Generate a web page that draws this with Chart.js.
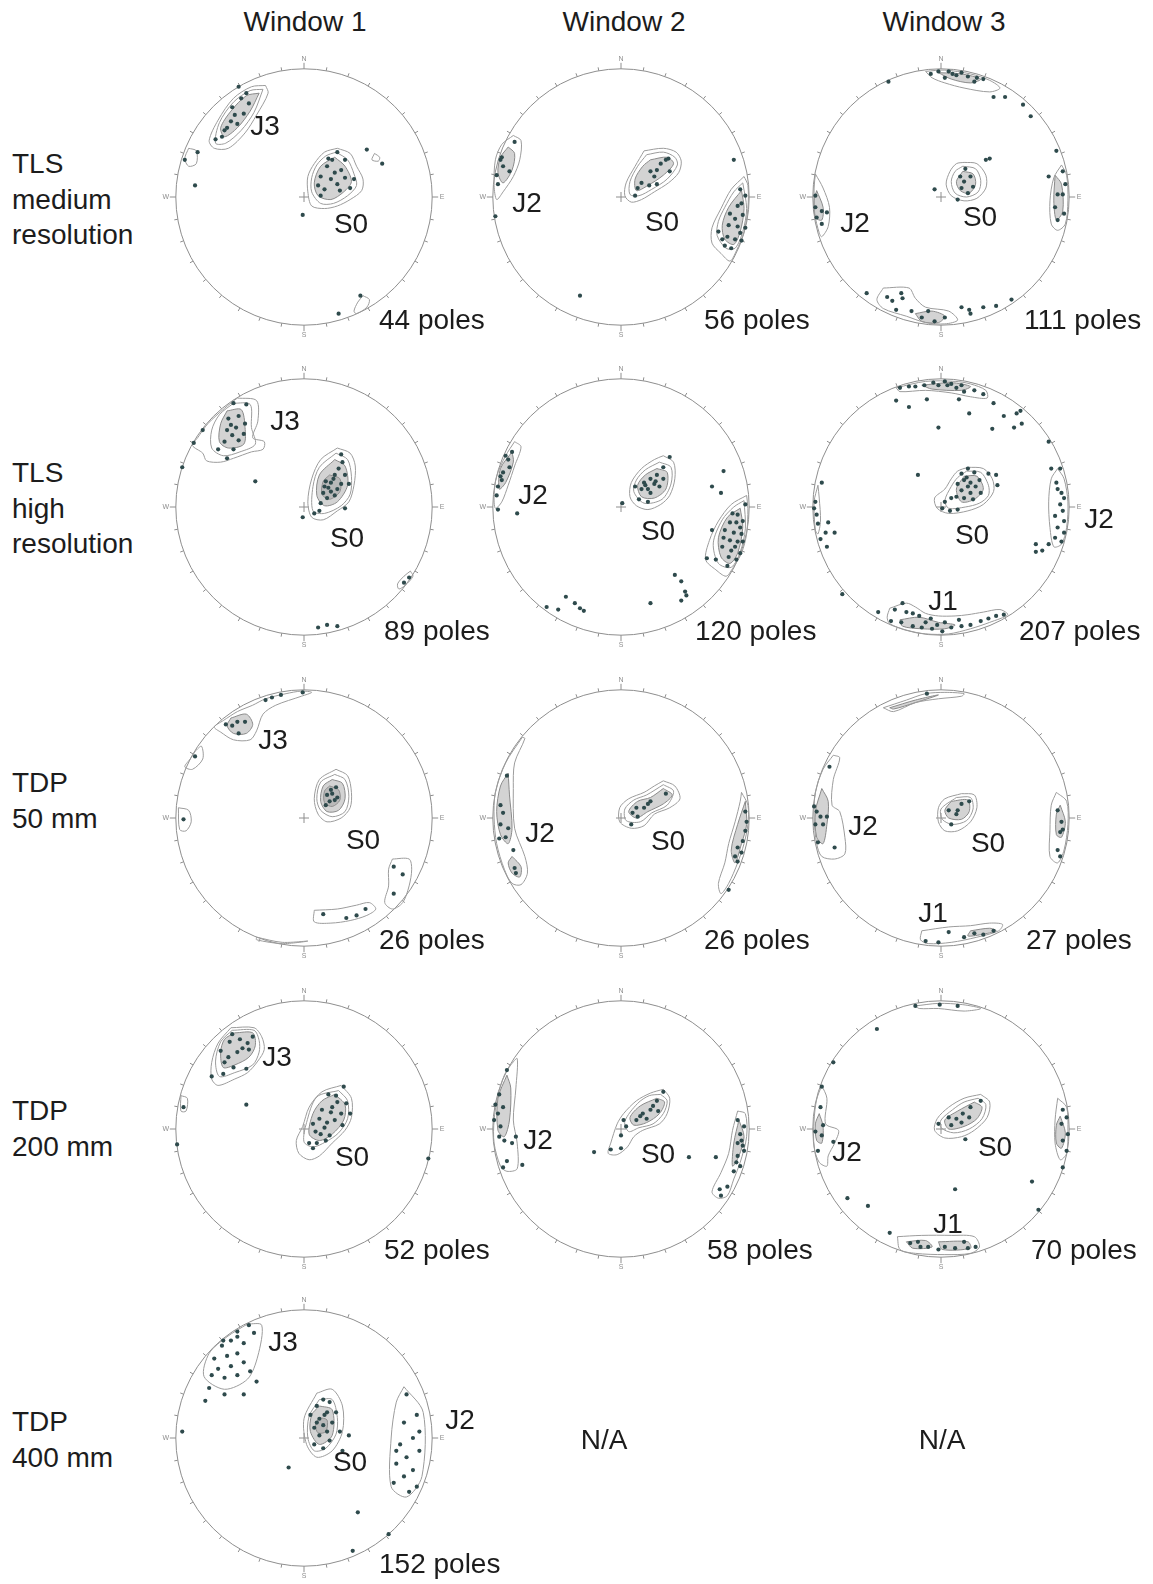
<!DOCTYPE html>
<html>
<head>
<meta charset="utf-8">
<script src="https://cdn.jsdelivr.net/npm/chart.js@4.4.1/dist/chart.umd.min.js"></script>
<style>
  body { margin: 0; background: #fff; }
  #page { position: relative; width: 1153px; height: 1584px; overflow: hidden; background: #fff;
          font-family: "Liberation Sans", Arial, sans-serif; color: #1c1c1c; }
  canvas { position: absolute; }
  .t { position: absolute; font-size: 28px; line-height: 1; white-space: nowrap; z-index: 2; }
  .c { transform: translate(-50%, -50%); }
  .l { transform: translateY(-50%); }
  .rl { left: 12px; line-height: 35.5px; }
</style>
</head>
<body>
<div id="page">
  <div class="t c" style="left:305px;top:22px">Window 1</div>
  <div class="t c" style="left:624px;top:22px">Window 2</div>
  <div class="t c" style="left:944px;top:22px">Window 3</div>

  <div class="t rl" style="top:146px">TLS<br>medium<br>resolution</div>
  <div class="t rl" style="top:455px">TLS<br>high<br>resolution</div>
  <div class="t rl" style="top:765px">TDP<br>50 mm</div>
  <div class="t rl" style="top:1093px">TDP<br>200 mm</div>
  <div class="t rl" style="top:1404px">TDP<br>400 mm</div>

  <canvas id="n11" width="290" height="290" style="left:159px;top:52px"></canvas>
  <canvas id="n12" width="290" height="290" style="left:476px;top:52px"></canvas>
  <canvas id="n13" width="290" height="290" style="left:796px;top:52px"></canvas>
  <canvas id="n21" width="290" height="290" style="left:159px;top:362px"></canvas>
  <canvas id="n22" width="290" height="290" style="left:476px;top:362px"></canvas>
  <canvas id="n23" width="290" height="290" style="left:796px;top:362px"></canvas>
  <canvas id="n31" width="290" height="290" style="left:159px;top:673px"></canvas>
  <canvas id="n32" width="290" height="290" style="left:476px;top:673px"></canvas>
  <canvas id="n33" width="290" height="290" style="left:796px;top:673px"></canvas>
  <canvas id="n41" width="290" height="290" style="left:159px;top:984px"></canvas>
  <canvas id="n42" width="290" height="290" style="left:476px;top:984px"></canvas>
  <canvas id="n43" width="290" height="290" style="left:796px;top:984px"></canvas>
  <canvas id="n51" width="290" height="290" style="left:159px;top:1293px"></canvas>

  <!-- set labels -->
  <div class="t c" style="left:265px;top:126px">J3</div>
  <div class="t c" style="left:351px;top:224px">S0</div>
  <div class="t c" style="left:527px;top:203px">J2</div>
  <div class="t c" style="left:662px;top:222px">S0</div>
  <div class="t c" style="left:855px;top:223px">J2</div>
  <div class="t c" style="left:980px;top:217px">S0</div>

  <div class="t c" style="left:285px;top:421px">J3</div>
  <div class="t c" style="left:347px;top:538px">S0</div>
  <div class="t c" style="left:533px;top:495px">J2</div>
  <div class="t c" style="left:658px;top:531px">S0</div>
  <div class="t c" style="left:972px;top:535px">S0</div>
  <div class="t c" style="left:943px;top:601px">J1</div>
  <div class="t c" style="left:1099px;top:519px">J2</div>

  <div class="t c" style="left:273px;top:740px">J3</div>
  <div class="t c" style="left:363px;top:840px">S0</div>
  <div class="t c" style="left:540px;top:833px">J2</div>
  <div class="t c" style="left:668px;top:841px">S0</div>
  <div class="t c" style="left:863px;top:826px">J2</div>
  <div class="t c" style="left:988px;top:843px">S0</div>
  <div class="t c" style="left:933px;top:913px">J1</div>

  <div class="t c" style="left:277px;top:1057px">J3</div>
  <div class="t c" style="left:352px;top:1157px">S0</div>
  <div class="t c" style="left:538px;top:1140px">J2</div>
  <div class="t c" style="left:658px;top:1154px">S0</div>
  <div class="t c" style="left:847px;top:1152px">J2</div>
  <div class="t c" style="left:995px;top:1147px">S0</div>
  <div class="t c" style="left:948px;top:1224px">J1</div>

  <div class="t c" style="left:283px;top:1342px">J3</div>
  <div class="t c" style="left:350px;top:1462px">S0</div>
  <div class="t c" style="left:460px;top:1420px">J2</div>

  <!-- pole counts -->
  <div class="t l" style="left:379px;top:320px">44 poles</div>
  <div class="t l" style="left:704px;top:320px">56 poles</div>
  <div class="t l" style="left:1024px;top:320px">111 poles</div>
  <div class="t l" style="left:384px;top:631px">89 poles</div>
  <div class="t l" style="left:695px;top:631px">120 poles</div>
  <div class="t l" style="left:1019px;top:631px">207 poles</div>
  <div class="t l" style="left:379px;top:940px">26 poles</div>
  <div class="t l" style="left:704px;top:940px">26 poles</div>
  <div class="t l" style="left:1026px;top:940px">27 poles</div>
  <div class="t l" style="left:384px;top:1250px">52 poles</div>
  <div class="t l" style="left:707px;top:1250px">58 poles</div>
  <div class="t l" style="left:1031px;top:1250px">70 poles</div>
  <div class="t l" style="left:379px;top:1564px">152 poles</div>

  <div class="t c" style="left:604px;top:1440px">N/A</div>
  <div class="t c" style="left:942px;top:1440px">N/A</div>
</div>

<script>
// poles are [x, y] pairs on the unit stereonet (x east, y north)
// rings = plain contour lines, fills = dense (shaded) contour cores

// ---- TLS medium resolution ----
const tlsMedW1Poles = [-0.51,0.86, -0.45,0.81, -0.49,0.77, -0.43,0.73, -0.54,0.64, -0.57,0.59, -0.52,0.57, -0.60,0.54, -0.64,0.47, -0.69,0.45, -0.47,0.65, -0.56,0.70, -0.62,0.52,
  0.26,0.35, 0.32,0.29, 0.22,0.29, 0.18,0.24, 0.29,0.21, 0.24,0.19, 0.13,0.16, 0.21,0.14, 0.32,0.15, 0.39,0.14, 0.11,0.09, 0.16,0.06, 0.36,0.07, 0.13,0.01, 0.26,0.10, 0.19,0.30, 0.28,0.05,
  -0.93,0.29, -0.83,0.35, -0.85,0.09, 0.49,0.37, 0.61,0.26, -0.01,-0.14, 0.44,-0.77, 0.27,-0.91];
const tlsMedW1Rings = [
  [-0.30,0.87, -0.28,0.81, -0.37,0.64, -0.46,0.50, -0.59,0.38, -0.70,0.38, -0.74,0.44, -0.67,0.60, -0.55,0.77, -0.41,0.86],
  [-0.32,0.84, -0.39,0.66, -0.49,0.52, -0.61,0.42, -0.69,0.42, -0.66,0.58, -0.55,0.74, -0.42,0.83],
  [0.26,0.38, 0.36,0.34, 0.41,0.24, 0.46,0.14, 0.45,0.05, 0.36,-0.02, 0.26,-0.07, 0.16,-0.09, 0.06,-0.07, 0.03,0.04, 0.03,0.16, 0.08,0.26, 0.16,0.35],
  [0.25,0.35, 0.34,0.29, 0.39,0.18, 0.41,0.09, 0.34,0.01, 0.23,-0.05, 0.13,-0.05, 0.06,0.04, 0.06,0.15, 0.10,0.25, 0.17,0.32],
  [-0.90,0.38, -0.84,0.36, -0.84,0.26, -0.90,0.24, -0.93,0.30],
  [0.55,0.34, 0.59,0.31, 0.58,0.28, 0.53,0.29],
  [0.46,-0.77, 0.51,-0.80, 0.49,-0.86, 0.41,-0.91, 0.39,-0.89, 0.42,-0.82]
];
const tlsMedW1Fills = [
  [-0.35,0.81, -0.42,0.67, -0.52,0.54, -0.62,0.47, -0.65,0.54, -0.57,0.67, -0.45,0.79],
  [0.24,0.31, 0.32,0.24, 0.37,0.12, 0.31,0.04, 0.21,-0.02, 0.11,0.01, 0.08,0.11, 0.13,0.24]
];

const tlsMedW2Poles = [-0.83,0.43, -0.93,0.31, -0.94,0.29, -0.87,0.20, -0.92,0.24, -0.97,0.17, -0.98,-0.15, -0.96,0.10,
  0.35,0.29, 0.31,0.26, 0.37,0.30, 0.28,0.21, 0.23,0.20, 0.38,0.20, 0.26,0.16, 0.16,0.11, 0.22,0.09, 0.13,0.07, 0.28,0.10, 0.11,0.01,
  0.93,0.06, 0.97,0.01, 0.91,-0.07, 0.85,-0.13, 0.89,-0.17, 0.95,-0.14, 0.84,-0.22, 0.91,-0.23, 0.97,-0.24, 0.76,-0.27, 0.83,-0.31, 0.89,-0.33, 0.94,-0.34, 0.79,-0.33,
  0.93,-0.28, 0.86,-0.40, 0.81,-0.38, 0.94,-0.05, 0.88,0.29, -0.32,-0.77];
const tlsMedW2Rings = [
  [-0.84,0.48, -0.78,0.44, -0.79,0.29, -0.84,0.16, -0.92,0.04, -0.97,-0.02, -0.99,0.09, -0.98,0.29, -0.93,0.41],
  [0.18,0.36, 0.33,0.38, 0.43,0.35, 0.47,0.28, 0.45,0.19, 0.37,0.11, 0.26,0.04, 0.16,-0.02, 0.08,-0.04, 0.03,0.01, 0.04,0.11, 0.11,0.24],
  [0.20,0.33, 0.33,0.35, 0.42,0.31, 0.44,0.25, 0.36,0.14, 0.24,0.06, 0.14,0.01, 0.07,0.02, 0.07,0.12, 0.13,0.24],
  [0.96,0.16, 0.99,0.09, 0.99,-0.09, 0.96,-0.27, 0.90,-0.42, 0.85,-0.50, 0.78,-0.44, 0.71,-0.36, 0.71,-0.24, 0.78,-0.09, 0.86,0.06],
  [0.95,0.11, 0.98,-0.09, 0.95,-0.27, 0.89,-0.40, 0.82,-0.40, 0.75,-0.30, 0.76,-0.19, 0.81,-0.08, 0.88,0.04]
];
const tlsMedW2Fills = [
  [-0.88,0.39, -0.83,0.34, -0.85,0.21, -0.92,0.11, -0.96,0.19, -0.94,0.31],
  [0.23,0.29, 0.36,0.31, 0.41,0.26, 0.33,0.17, 0.21,0.09, 0.12,0.05, 0.11,0.14, 0.17,0.24],
  [0.94,0.05, 0.96,-0.09, 0.93,-0.27, 0.88,-0.37, 0.81,-0.33, 0.79,-0.22, 0.84,-0.08]
];

const tlsMedW3Poles = [-0.02,0.98, 0.06,0.98, 0.09,0.96, 0.16,0.97, 0.21,0.94, 0.33,0.92, 0.03,0.93, 0.26,0.90, 0.12,0.95, -0.08,0.96, 0.28,0.93,
  0.41,0.78, 0.50,0.78, 0.64,0.72, 0.70,0.63, -0.41,0.90, 0.90,0.36,
  0.19,0.22, 0.15,0.16, 0.23,0.16, 0.18,0.12, 0.25,0.08, 0.16,0.07, 0.21,0.03, 0.35,0.29, 0.38,0.30, -0.05,0.06, 0.13,-0.02,
  -0.98,0.01, -0.93,-0.11, -0.89,-0.12, -0.97,-0.16, -0.93,-0.21, -0.98,-0.08,
  0.95,0.20, 0.97,0.10, 0.91,0.02, 0.95,0.02, 0.89,-0.08, 0.91,-0.18, 0.96,-0.13, 0.84,0.16,
  -0.42,-0.78, -0.38,-0.81, -0.31,-0.75, -0.30,-0.79, -0.35,-0.88, -0.23,-0.89, -0.15,-0.94, -0.10,-0.89, -0.05,-0.97, 0.03,-0.94, -0.58,-0.75,
  0.16,-0.86, 0.23,-0.91, 0.33,-0.86, 0.43,-0.85, 0.55,-0.80, 0.22,-0.88];
const tlsMedW3Rings = [
  [-0.12,0.98, 0.03,0.99, 0.23,0.96, 0.38,0.91, 0.46,0.85, 0.38,0.82, 0.18,0.85, 0.03,0.89, -0.07,0.93],
  [0.18,0.27, 0.28,0.26, 0.35,0.17, 0.35,0.07, 0.28,-0.01, 0.18,-0.03, 0.08,0.01, 0.04,0.10, 0.07,0.20, 0.12,0.26],
  [0.17,0.24, 0.27,0.22, 0.31,0.13, 0.29,0.04, 0.20,0.00, 0.11,0.03, 0.08,0.12, 0.11,0.20],
  [-0.98,0.18, -0.92,0.07, -0.87,-0.08, -0.88,-0.23, -0.93,-0.31, -0.95,-0.28, -0.985,-0.13, -0.99,0.07],
  [0.94,0.25, 0.98,0.17, 0.99,-0.03, 0.97,-0.21, 0.91,-0.26, 0.86,-0.21, 0.85,-0.03, 0.88,0.15],
  [-0.45,-0.71, -0.25,-0.71, -0.20,-0.79, -0.12,-0.86, 0.06,-0.89, 0.13,-0.96, 0.03,-0.99, -0.12,-0.98, -0.27,-0.93, -0.45,-0.87, -0.50,-0.80]
];
const tlsMedW3Fills = [
  [-0.02,0.97, 0.16,0.96, 0.31,0.92, 0.23,0.89, 0.08,0.92],
  [0.17,0.20, 0.25,0.18, 0.27,0.10, 0.22,0.03, 0.15,0.05, 0.12,0.12],
  [-0.97,0.05, -0.92,-0.08, -0.93,-0.18, -0.98,-0.16, -0.99,-0.03],
  [0.89,0.17, 0.94,0.10, 0.95,-0.11, 0.90,-0.18, 0.88,-0.03],
  [-0.20,-0.91, -0.07,-0.89, 0.03,-0.93, -0.02,-0.98, -0.15,-0.97]
];

// ---- TLS high resolution ----
const tlsHighW1Poles = [-0.55,0.81, -0.45,0.80, -0.59,0.69, -0.51,0.71, -0.46,0.65, -0.60,0.60, -0.56,0.56, -0.51,0.52, -0.47,0.57, -0.62,0.51, -0.67,0.45, -0.60,0.38, -0.55,0.45,
  -0.79,0.60, -0.86,0.50, -0.95,0.31, -0.38,0.20, -0.57,0.64, -0.53,0.62,
  0.29,0.41, 0.30,0.35, 0.27,0.30, 0.32,0.25, 0.24,0.25, 0.21,0.19, 0.29,0.18, 0.16,0.16, 0.21,0.12, 0.15,0.11, 0.18,0.07, 0.13,0.03, 0.26,0.14, 0.32,-0.01,
  0.08,-0.05, 0.12,-0.03, -0.01,-0.08, 0.35,0.18, 0.19,0.15, 0.24,0.09, 0.17,0.20, 0.23,0.22,
  0.82,-0.55, 0.78,-0.59, 0.11,-0.94, 0.18,-0.92, 0.26,-0.93];
const tlsHighW1Rings = [
  [-0.52,0.85, -0.37,0.83, -0.36,0.67, -0.40,0.54, -0.31,0.51, -0.32,0.45, -0.41,0.43, -0.55,0.38, -0.65,0.35, -0.76,0.36, -0.79,0.42, -0.87,0.48, -0.83,0.54, -0.75,0.65, -0.62,0.77],
  [-0.55,0.81, -0.42,0.80, -0.41,0.62, -0.38,0.49, -0.50,0.43, -0.63,0.40, -0.72,0.46, -0.72,0.60, -0.66,0.72],
  [0.26,0.46, 0.36,0.42, 0.40,0.32, 0.39,0.17, 0.35,0.04, 0.26,-0.03, 0.15,-0.10, 0.06,-0.08, 0.03,0.04, 0.06,0.22, 0.13,0.37],
  [0.25,0.42, 0.34,0.37, 0.37,0.24, 0.36,0.10, 0.29,0.01, 0.16,-0.05, 0.07,-0.03, 0.07,0.16, 0.12,0.31],
  [0.83,-0.50, 0.85,-0.54, 0.79,-0.61, 0.74,-0.64, 0.73,-0.60, 0.78,-0.54]
];
const tlsHighW1Fills = [
  [-0.60,0.75, -0.49,0.76, -0.46,0.62, -0.47,0.49, -0.59,0.46, -0.66,0.51, -0.65,0.65],
  [0.24,0.37, 0.32,0.32, 0.34,0.17, 0.26,0.04, 0.16,0.01, 0.10,0.09, 0.12,0.25],
  [0.20,0.25, 0.28,0.22, 0.28,0.12, 0.20,0.06, 0.14,0.10, 0.15,0.20]
];

const tlsHighW2Poles = [-0.85,0.43, -0.88,0.37, -0.87,0.31, -0.92,0.27, -0.93,0.21, -0.96,0.16, -0.97,0.09, -0.96,-0.02, -0.81,-0.05, -0.90,0.40, -0.94,0.24,
  0.38,0.39, 0.33,0.31, 0.28,0.25, 0.33,0.22, 0.23,0.22, 0.18,0.19, 0.26,0.18, 0.30,0.16, 0.21,0.14, 0.16,0.14, 0.23,0.11, 0.14,0.06, 0.21,0.04, 0.11,0.16, 0.01,0.03, 0.27,0.20, 0.19,0.17,
  0.97,0.02, 0.91,-0.06, 0.85,-0.12, 0.90,-0.12, 0.95,-0.11, 0.81,-0.18, 0.88,-0.20, 0.94,-0.21, 0.85,-0.26, 0.91,-0.27, 0.95,-0.27, 0.79,-0.31, 0.86,-0.34, 0.93,-0.36,
  0.84,-0.39, 0.90,-0.41, 0.71,-0.18, 0.67,-0.40, 0.74,-0.41, 0.83,-0.46, 0.89,-0.31, 0.87,-0.05, 0.93,-0.16, 0.80,-0.24,
  0.80,0.28, 0.71,0.16, 0.78,0.11, 0.42,-0.53, 0.47,-0.58, 0.50,-0.66, 0.51,-0.69, 0.47,-0.73, 0.23,-0.75,
  -0.43,-0.70, -0.58,-0.78, -0.49,-0.80, -0.36,-0.75, -0.32,-0.79, -0.29,-0.81];
const tlsHighW2Rings = [
  [-0.83,0.51, -0.78,0.47, -0.83,0.32, -0.88,0.17, -0.93,0.04, -0.98,-0.01, -0.99,0.09, -0.97,0.24, -0.90,0.40],
  [0.33,0.40, 0.41,0.35, 0.42,0.22, 0.38,0.09, 0.31,0.02, 0.21,-0.02, 0.12,0.01, 0.07,0.08, 0.08,0.19, 0.16,0.30, 0.26,0.37],
  [0.30,0.35, 0.39,0.31, 0.39,0.18, 0.32,0.06, 0.18,0.03, 0.10,0.12, 0.12,0.21, 0.19,0.29],
  [0.98,0.09, 0.99,-0.01, 0.98,-0.21, 0.94,-0.36, 0.87,-0.48, 0.82,-0.54, 0.74,-0.49, 0.66,-0.41, 0.69,-0.26, 0.76,-0.11, 0.86,0.02],
  [0.96,0.05, 0.97,-0.17, 0.93,-0.35, 0.86,-0.47, 0.76,-0.44, 0.72,-0.28, 0.79,-0.10, 0.88,0.00]
];
const tlsHighW2Fills = [
  [-0.85,0.43, -0.84,0.35, -0.90,0.19, -0.95,0.14, -0.94,0.30],
  [0.28,0.30, 0.36,0.27, 0.35,0.14, 0.26,0.07, 0.16,0.08, 0.13,0.17, 0.19,0.25],
  [0.93,-0.01, 0.95,-0.16, 0.91,-0.36, 0.85,-0.44, 0.78,-0.39, 0.76,-0.24, 0.83,-0.08]
];

const tlsHighW3Poles = [-0.32,0.93, -0.20,0.94, -0.13,0.95, -0.06,0.97, -0.02,0.95, 0.03,0.98, 0.08,0.96, 0.16,0.95, 0.18,0.90, 0.26,0.91, 0.33,0.88, 0.12,0.93, -0.25,0.94, 0.05,0.95,
  -0.35,0.83, -0.25,0.78, -0.11,0.84, 0.14,0.84, 0.22,0.73, 0.41,0.81, 0.49,0.71, 0.59,0.73, 0.62,0.75, 0.57,0.62, 0.63,0.65, 0.40,0.61, -0.02,0.62, 0.84,0.51,
  0.21,0.30, 0.16,0.26, 0.26,0.27, 0.18,0.21, 0.23,0.19, 0.30,0.21, 0.13,0.18, 0.21,0.16, 0.27,0.16, 0.16,0.13, 0.23,0.11, 0.31,0.11, 0.12,0.08, 0.18,0.07, 0.08,0.07,
  0.03,0.04, 0.01,-0.01, 0.07,-0.03, 0.13,-0.02, 0.37,0.26, 0.43,0.25, 0.44,0.17, -0.18,0.25, 0.20,0.23, 0.25,0.06,
  -0.93,0.19, -0.98,0.04, -0.99,-0.01, -0.97,-0.06, -0.96,-0.13, -0.88,-0.12, -0.83,-0.20, -0.90,-0.20, -0.94,-0.25, -0.89,-0.31, -0.77,-0.68,
  0.86,0.30, 0.93,0.30, 0.90,0.19, 0.91,0.14, 0.94,0.11, 0.96,0.07, 0.93,0.02, 0.95,-0.03, 0.89,-0.07, 0.96,-0.11, 0.91,-0.16, 0.96,-0.20, 0.89,-0.24, 0.94,-0.27,
  0.74,-0.29, 0.79,-0.34, 0.84,-0.29, 0.74,-0.35,
  -0.49,-0.82, -0.36,-0.80, -0.30,-0.75, -0.27,-0.82, -0.22,-0.83, -0.17,-0.85, -0.08,-0.87, -0.39,-0.89, -0.31,-0.90, -0.22,-0.93, -0.15,-0.94, -0.07,-0.95, 0.01,-0.97,
  0.08,-0.94, 0.16,-0.93, 0.23,-0.92, 0.31,-0.89, 0.37,-0.87, 0.43,-0.85, 0.49,-0.84, 0.03,-0.90, -0.03,-0.92, -0.12,-0.90, 0.14,-0.88];
const tlsHighW3Rings = [
  [-0.35,0.93, -0.12,0.98, 0.11,0.98, 0.23,0.96, 0.35,0.91, 0.36,0.85, 0.23,0.86, 0.08,0.89, -0.12,0.91, -0.32,0.90],
  [0.21,0.31, 0.33,0.30, 0.40,0.22, 0.41,0.12, 0.33,0.02, 0.21,-0.03, 0.06,-0.05, -0.03,-0.01, -0.05,0.07, 0.03,0.14, 0.08,0.22, 0.13,0.28],
  [0.20,0.28, 0.31,0.27, 0.37,0.17, 0.37,0.09, 0.30,0.03, 0.19,0.00, 0.06,-0.01, 0.03,0.05, 0.08,0.16, 0.13,0.23],
  [-0.96,0.17, -0.95,0.07, -0.94,-0.11, -0.96,-0.21, -0.98,-0.18, -0.99,0.04],
  [0.91,0.30, 0.96,0.22, 0.99,0.04, 0.98,-0.16, 0.94,-0.29, 0.88,-0.31, 0.85,-0.16, 0.84,0.04, 0.86,0.22],
  [-0.40,-0.79, -0.27,-0.75, -0.20,-0.78, -0.12,-0.83, -0.02,-0.85, 0.11,-0.85, 0.21,-0.84, 0.33,-0.82, 0.46,-0.80, 0.52,-0.84, 0.38,-0.90, 0.23,-0.95, 0.06,-0.99, -0.12,-0.99, -0.27,-0.96, -0.40,-0.91, -0.42,-0.86]
];
const tlsHighW3Fills = [
  [-0.15,0.95, 0.08,0.97, 0.23,0.94, 0.16,0.91, -0.07,0.92],
  [0.18,0.24, 0.28,0.24, 0.33,0.14, 0.26,0.06, 0.16,0.04, 0.12,0.14],
  [-0.32,-0.88, -0.17,-0.86, -0.02,-0.90, 0.11,-0.92, 0.03,-0.95, -0.15,-0.95, -0.30,-0.93]
];

// ---- TDP 50 mm ----
const tdp50W1Poles = [-0.61,0.73, -0.52,0.75, -0.46,0.75, -0.56,0.72, -0.30,0.92, -0.25,0.94, -0.18,0.96, -0.51,0.66, -0.85,0.48, -0.94,-0.01, -0.01,0.98,
  0.25,0.24, 0.22,0.19, 0.26,0.16, 0.18,0.18, 0.17,0.10, 0.24,0.14, 0.21,0.22, 0.20,0.13,
  0.70,-0.38, 0.77,-0.44, 0.70,-0.59, 0.15,-0.75, 0.33,-0.78, 0.48,-0.71, 0.41,-0.76];
const tdp50W1Rings = [
  [-0.63,0.76, -0.52,0.83, -0.40,0.88, -0.30,0.93, -0.14,0.97, -0.02,0.99, 0.06,0.98, -0.02,0.95, -0.22,0.88, -0.32,0.81, -0.37,0.68, -0.42,0.61, -0.55,0.61, -0.65,0.67, -0.70,0.71],
  [-0.85,0.52, -0.80,0.56, -0.79,0.46, -0.87,0.38, -0.93,0.40, -0.88,0.47],
  [-0.98,0.08, -0.90,0.06, -0.88,-0.03, -0.92,-0.10, -0.97,-0.09],
  [0.25,0.38, 0.34,0.33, 0.37,0.20, 0.36,0.08, 0.29,0.00, 0.18,-0.03, 0.11,0.03, 0.08,0.15, 0.12,0.30],
  [0.24,0.34, 0.32,0.30, 0.35,0.17, 0.32,0.05, 0.22,0.01, 0.13,0.06, 0.10,0.15, 0.13,0.28],
  [0.69,-0.32, 0.82,-0.32, 0.84,-0.40, 0.82,-0.53, 0.77,-0.66, 0.69,-0.71, 0.63,-0.66, 0.66,-0.53, 0.66,-0.40],
  [0.08,-0.72, 0.26,-0.71, 0.41,-0.68, 0.51,-0.66, 0.56,-0.71, 0.49,-0.76, 0.36,-0.80, 0.21,-0.82, 0.08,-0.81],
  [-0.37,-0.93, -0.17,-0.97, 0.03,-0.96, -0.17,-0.98, -0.37,-0.95]
];
const tdp50W1Fills = [
  [-0.57,0.78, -0.45,0.81, -0.40,0.73, -0.45,0.66, -0.55,0.66, -0.60,0.72],
  [0.22,0.30, 0.30,0.27, 0.32,0.15, 0.27,0.06, 0.18,0.05, 0.13,0.13, 0.15,0.25],
  [0.20,0.25, 0.27,0.22, 0.28,0.14, 0.22,0.09, 0.16,0.12, 0.16,0.21]
];

const tdp50W2Poles = [-0.89,0.33, -0.94,0.10, -0.92,0.04, -0.94,-0.05, -0.88,-0.08, -0.90,-0.15, -0.95,-0.16, -0.84,-0.25, -0.83,-0.39, -0.82,-0.43,
  0.35,0.19, 0.21,0.11, 0.18,0.08, 0.12,0.08, 0.09,0.04, 0.13,0.01, 0.08,-0.05, 0.23,0.13,
  0.97,0.05, 0.98,-0.03, 0.97,-0.10, 0.95,-0.18, 0.91,-0.23, 0.94,-0.27, 0.89,-0.30, 0.91,-0.34, 0.84,-0.56];
const tdp50W2Rings = [
  [-0.77,0.63, -0.75,0.62, -0.83,0.43, -0.84,0.23, -0.83,-0.08, -0.75,-0.30, -0.73,-0.43, -0.78,-0.52, -0.85,-0.51, -0.91,-0.40, -0.97,-0.20, -0.99,0.00, -0.98,0.20, -0.90,0.43],
  [0.33,0.29, 0.42,0.25, 0.46,0.15, 0.38,0.08, 0.26,0.03, 0.18,-0.06, 0.08,-0.08, -0.01,-0.03, -0.01,0.08, 0.06,0.15, 0.18,0.20, 0.26,0.25],
  [0.33,0.26, 0.41,0.21, 0.36,0.10, 0.24,0.04, 0.15,-0.03, 0.04,-0.02, 0.03,0.07, 0.10,0.14, 0.20,0.18],
  [0.94,0.20, 0.99,0.10, 0.99,-0.05, 0.96,-0.20, 0.91,-0.35, 0.84,-0.51, 0.78,-0.59, 0.76,-0.51, 0.81,-0.35, 0.84,-0.20, 0.89,-0.03, 0.93,0.13]
];
const tdp50W2Fills = [
  [-0.88,0.35, -0.87,0.18, -0.85,-0.08, -0.88,-0.20, -0.94,-0.13, -0.97,0.05, -0.94,0.25],
  [-0.85,-0.30, -0.78,-0.38, -0.79,-0.46, -0.85,-0.43, -0.88,-0.35],
  [0.33,0.23, 0.40,0.18, 0.33,0.11, 0.21,0.05, 0.12,0.00, 0.06,0.05, 0.13,0.13, 0.23,0.16],
  [0.97,0.13, 0.98,-0.05, 0.94,-0.20, 0.89,-0.35, 0.86,-0.25, 0.91,-0.05]
];

const tdp50W3Poles = [-0.11,0.97, -0.87,0.40, -0.99,0.09, -0.97,0.05, -0.94,0.01, -0.89,0.01, -0.98,-0.05, -0.92,-0.05, -0.96,-0.19, -0.83,-0.23,
  0.16,0.11, 0.22,0.13, 0.13,0.06, 0.06,0.06, 0.12,0.03, 0.08,-0.05,
  0.91,0.06, 0.94,-0.03, 0.95,-0.09, 0.93,-0.11, 0.91,-0.25, 0.93,-0.30,
  0.06,-0.89, 0.18,-0.93, 0.26,-0.90, 0.33,-0.91, 0.41,-0.88, -0.12,-0.96, -0.02,-0.97];
const tdp50W3Rings = [
  [-0.45,0.86, -0.27,0.92, -0.12,0.97, 0.03,0.98, 0.18,0.97, 0.16,0.95, -0.02,0.93, -0.20,0.90, -0.37,0.83],
  [-0.84,0.49, -0.79,0.47, -0.84,0.30, -0.85,0.10, -0.79,0.05, -0.75,-0.15, -0.75,-0.28, -0.83,-0.32, -0.93,-0.30, -0.97,-0.20, -0.99,0.00, -0.98,0.20, -0.92,0.38],
  [0.16,0.19, 0.26,0.18, 0.28,0.08, 0.23,-0.03, 0.13,-0.10, 0.03,-0.10, -0.02,-0.03, -0.02,0.08, 0.03,0.15],
  [0.12,0.16, 0.23,0.16, 0.25,0.07, 0.20,-0.02, 0.09,-0.05, 0.01,-0.01, 0.00,0.07],
  [0.90,0.20, 0.98,0.13, 0.99,-0.05, 0.96,-0.25, 0.91,-0.35, 0.85,-0.30, 0.85,-0.10, 0.86,0.10],
  [-0.15,-0.88, 0.06,-0.85, 0.23,-0.84, 0.38,-0.82, 0.48,-0.83, 0.45,-0.88, 0.28,-0.93, 0.08,-0.97, -0.10,-0.98, -0.16,-0.95]
];
const tdp50W3Fills = [
  [-0.40,0.86, -0.20,0.92, -0.02,0.96, -0.20,0.90, -0.37,0.85],
  [-0.93,0.23, -0.88,0.13, -0.89,-0.05, -0.92,-0.20, -0.97,-0.15, -0.98,0.05],
  [0.08,0.13, 0.21,0.14, 0.22,0.05, 0.16,-0.01, 0.06,0.00, 0.03,0.06],
  [0.93,0.10, 0.97,-0.03, 0.94,-0.15, 0.90,-0.13, 0.90,0.03],
  [0.23,-0.88, 0.38,-0.86, 0.43,-0.88, 0.31,-0.91, 0.21,-0.92]
];

// ---- TDP 200 mm ----
const tdp200W1Poles = [-0.58,0.68, -0.50,0.70, -0.44,0.67, -0.43,0.62, -0.48,0.63, -0.52,0.60, -0.65,0.61, -0.59,0.56, -0.55,0.48, -0.63,0.43, -0.45,0.47, -0.72,0.41,
  -0.56,0.74, -0.40,0.72, -0.62,0.52, -0.45,0.19, -0.94,0.17, -0.99,-0.12, 0.97,-0.23,
  0.31,0.33, 0.19,0.27, 0.26,0.21, 0.14,0.15, 0.21,0.13, 0.29,0.12, 0.36,0.12, 0.12,0.08, 0.18,0.05, 0.24,0.07, 0.07,0.04, 0.13,-0.04, 0.04,-0.11,
  0.10,-0.11, 0.17,-0.09, 0.07,-0.15, 0.22,0.17, 0.30,0.03, 0.25,0.26, 0.16,0.01, 0.33,0.20, 0.09,-0.02, 0.20,-0.05];
const tdp200W1Rings = [
  [-0.57,0.79, -0.39,0.79, -0.33,0.72, -0.31,0.62, -0.36,0.53, -0.44,0.44, -0.54,0.39, -0.67,0.34, -0.72,0.39, -0.72,0.52, -0.67,0.67],
  [-0.56,0.77, -0.39,0.77, -0.35,0.69, -0.35,0.60, -0.40,0.50, -0.54,0.44, -0.66,0.41, -0.69,0.53, -0.65,0.68],
  [-0.96,0.26, -0.91,0.24, -0.92,0.14, -0.96,0.14],
  [0.29,0.34, 0.37,0.24, 0.37,0.09, 0.32,-0.01, 0.22,-0.11, 0.12,-0.21, 0.04,-0.24, -0.04,-0.19, -0.06,-0.09, -0.01,0.02, 0.04,0.17, 0.14,0.29],
  [0.27,0.30, 0.34,0.22, 0.34,0.08, 0.27,-0.03, 0.17,-0.10, 0.07,-0.14, 0.00,-0.10, 0.02,0.05, 0.10,0.25]
];
const tdp200W1Fills = [
  [-0.54,0.75, -0.40,0.75, -0.38,0.65, -0.43,0.56, -0.54,0.50, -0.63,0.48, -0.65,0.60, -0.62,0.70],
  [0.24,0.27, 0.32,0.19, 0.31,0.07, 0.22,-0.04, 0.12,-0.09, 0.04,-0.04, 0.07,0.12, 0.14,0.22]
];

const tdp200W2Poles = [-0.89,0.46, -0.95,0.27, -0.98,0.19, -0.92,0.17, -0.96,0.12, -0.99,0.07, -0.94,0.02, -0.95,-0.06, -0.91,-0.09, -0.82,-0.06, -0.85,-0.11, -0.89,-0.25, -0.92,-0.30, -0.77,-0.28,
  0.33,0.29, 0.28,0.22, 0.23,0.15, 0.29,0.14, 0.17,0.12, 0.12,0.07, 0.20,0.08, 0.02,0.07, 0.04,0.02, 0.00,-0.05, 0.00,-0.15, -0.08,-0.16, -0.21,-0.18, 0.25,0.18, 0.15,0.10,
  0.53,-0.22, 0.74,-0.22,
  0.91,0.07, 0.96,0.02, 0.93,-0.04, 0.94,-0.09, 0.91,-0.11, 0.96,-0.17, 0.91,-0.21, 0.93,-0.29, 0.88,-0.33, 0.83,-0.45, 0.77,-0.47, 0.78,-0.52, 0.90,-0.26, 0.95,-0.13];
const tdp200W2Rings = [
  [-0.86,0.50, -0.81,0.55, -0.82,0.32, -0.84,0.07, -0.81,-0.11, -0.81,-0.31, -0.89,-0.33, -0.94,-0.29, -0.99,-0.11, -0.99,0.07, -0.96,0.26, -0.91,0.42],
  [0.33,0.31, 0.38,0.24, 0.36,0.12, 0.30,0.04, 0.17,-0.01, 0.10,-0.06, 0.05,-0.14, -0.03,-0.20, -0.10,-0.19, -0.08,-0.11, -0.03,0.04, 0.02,0.12, 0.12,0.22, 0.23,0.28],
  [0.31,0.27, 0.36,0.22, 0.33,0.12, 0.25,0.04, 0.14,0.01, 0.06,-0.02, 0.03,0.06, 0.13,0.20, 0.22,0.26],
  [0.91,0.14, 0.97,0.12, 0.98,-0.06, 0.93,-0.26, 0.88,-0.39, 0.83,-0.52, 0.76,-0.54, 0.71,-0.49, 0.78,-0.34, 0.84,-0.19, 0.87,-0.01]
];
const tdp200W2Fills = [
  [-0.89,0.42, -0.86,0.32, -0.87,0.07, -0.91,-0.06, -0.96,-0.01, -0.96,0.24],
  [0.28,0.24, 0.34,0.21, 0.30,0.12, 0.20,0.05, 0.10,0.03, 0.07,0.09, 0.15,0.18],
  [0.92,0.07, 0.96,-0.06, 0.92,-0.21, 0.87,-0.29, 0.88,-0.11]
];

const tdp200W3Poles = [-0.01,0.97, -0.20,0.96, 0.13,0.96, -0.50,0.78, -0.84,0.52, -0.93,0.33, -0.73,-0.54, -0.57,-0.60, -0.40,-0.81, 0.11,-0.47, 0.71,-0.41, 0.76,-0.63,
  -0.94,0.17, -0.92,0.03, -0.98,-0.02, -0.93,-0.05, -0.84,-0.10, -0.96,-0.17,
  0.31,0.22, 0.23,0.17, 0.17,0.12, 0.22,0.09, 0.12,0.08, 0.16,0.05, 0.08,0.03, 0.06,0.09, 0.19,-0.08, -0.02,0.04,
  0.95,0.15, 0.98,0.09, 0.94,0.04, 0.99,-0.04, 0.95,-0.09, 0.98,-0.17, 0.95,-0.30,
  -0.24,-0.89, -0.16,-0.92, -0.18,-0.88, -0.10,-0.92, -0.02,-0.94, 0.03,-0.92, 0.11,-0.93, 0.18,-0.88, 0.21,-0.93, 0.27,-0.92];
const tdp200W3Rings = [
  [-0.20,0.96, -0.02,0.98, 0.17,0.97, 0.31,0.94, 0.18,0.92, -0.02,0.94, -0.17,0.94],
  [-0.93,0.34, -0.89,0.24, -0.90,0.04, -0.80,-0.01, -0.83,-0.11, -0.88,-0.21, -0.89,-0.29, -0.95,-0.26, -0.99,-0.14, -0.99,0.07, -0.97,0.23],
  [0.31,0.27, 0.38,0.21, 0.36,0.09, 0.26,-0.01, 0.16,-0.06, 0.03,-0.07, -0.05,-0.01, -0.03,0.08, 0.06,0.17, 0.18,0.24],
  [0.29,0.24, 0.35,0.19, 0.32,0.08, 0.22,0.00, 0.10,-0.03, 0.00,0.01, 0.00,0.07, 0.09,0.15, 0.18,0.21],
  [0.91,0.24, 0.98,0.17, 0.99,-0.01, 0.98,-0.19, 0.93,-0.24, 0.89,-0.11, 0.89,0.07],
  [-0.34,-0.84, -0.15,-0.83, 0.08,-0.83, 0.26,-0.84, 0.30,-0.92, 0.23,-0.97, 0.03,-0.98, -0.20,-0.97, -0.32,-0.94]
];
const tdp200W3Fills = [
  [-0.95,0.12, -0.92,0.02, -0.93,-0.11, -0.97,-0.09, -0.98,0.04],
  [0.26,0.21, 0.32,0.17, 0.28,0.08, 0.18,0.02, 0.06,0.00, 0.03,0.07, 0.13,0.14],
  [0.93,0.10, 0.97,-0.03, 0.94,-0.15, 0.90,-0.11, 0.90,0.03],
  [-0.27,-0.88, -0.12,-0.87, -0.07,-0.92, -0.22,-0.93],
  [-0.02,-0.88, 0.21,-0.88, 0.23,-0.93, 0.01,-0.94]
];

// ---- TDP 400 mm (window 1 only) ----
const tdp400W1Poles = [-0.43,0.88, -0.52,0.83, -0.39,0.82, -0.57,0.76, -0.47,0.74, -0.64,0.72, -0.52,0.66, -0.60,0.64, -0.70,0.62, -0.47,0.59, -0.57,0.56, -0.67,0.54,
  -0.52,0.49, -0.62,0.47, -0.72,0.49, -0.42,0.52, -0.74,0.39, -0.62,0.34, -0.77,0.29, -0.47,0.34, -0.37,0.44, -0.52,0.79, -0.63,0.76, -0.95,0.05,
  0.15,0.30, 0.20,0.28, 0.10,0.25, 0.18,0.20, 0.12,0.15, 0.22,0.12, 0.15,0.10, 0.08,0.08, 0.18,0.05, 0.12,0.02, 0.20,-0.02, 0.08,-0.05, 0.15,-0.08,
  0.25,0.20, 0.05,0.18, 0.28,0.05, 0.10,0.12, 0.16,0.18, 0.30,-0.10, 0.35,0.02, -0.12,-0.23,
  0.80,0.34, 0.88,0.18, 0.78,0.12, 0.85,0.00, 0.75,-0.05, 0.90,-0.10, 0.80,-0.15, 0.72,-0.20, 0.85,-0.25, 0.78,-0.30, 0.70,-0.35, 0.82,-0.42, 0.90,0.05, 0.88,-0.38, 0.72,-0.10,
  0.42,-0.58, 0.38,-0.88, 0.66,-0.75];
const tdp400W1Rings = [
  [-0.44,0.89, -0.33,0.88, -0.36,0.64, -0.44,0.46, -0.62,0.38, -0.78,0.48, -0.74,0.66, -0.60,0.79],
  [0.10,0.35, 0.22,0.38, 0.30,0.25, 0.30,0.05, 0.22,-0.10, 0.10,-0.15, 0.02,-0.05, 0.00,0.15],
  [0.12,0.30, 0.22,0.30, 0.26,0.16, 0.25,0.03, 0.17,-0.08, 0.08,-0.10, 0.03,0.00, 0.04,0.17],
  [0.78,0.40, 0.93,0.20, 0.92,-0.30, 0.80,-0.46, 0.68,-0.38, 0.68,0.00, 0.72,0.28]
];
const tdp400W1Fills = [
  [0.12,0.25, 0.22,0.22, 0.22,0.02, 0.12,-0.05, 0.05,0.05, 0.06,0.18],
  [0.12,0.16, 0.18,0.14, 0.17,0.05, 0.11,0.04, 0.09,0.10]
];

const RANGE = 1.1;

function toPts(flat, close) {
  const out = [];
  for (let i = 0; i < flat.length; i += 2) out.push({x: flat[i], y: flat[i + 1]});
  if (close) out.push({x: flat[0], y: flat[1]});
  return out;
}

// primitive circle, 10 degree ticks, centre cross, N/E/S/W
const netFrame = {
  id: 'netFrame',
  beforeDatasetsDraw(chart) {
    const {ctx, scales: {x, y}} = chart;
    const cx = x.getPixelForValue(0), cy = y.getPixelForValue(0);
    const r = x.getPixelForValue(1) - cx;
    ctx.save();
    ctx.strokeStyle = '#8e8e8e';
    ctx.lineWidth = 1;
    ctx.beginPath();
    ctx.arc(cx, cy, r, 0, Math.PI * 2);
    ctx.stroke();
    for (let a = 0; a < 360; a += 10) {
      const t = a * Math.PI / 180;
      const len = a % 90 === 0 ? 6 : 3.5;
      ctx.beginPath();
      ctx.moveTo(cx + Math.sin(t) * r, cy - Math.cos(t) * r);
      ctx.lineTo(cx + Math.sin(t) * (r + len), cy - Math.cos(t) * (r + len));
      ctx.stroke();
    }
    ctx.beginPath();
    ctx.moveTo(cx - 5, cy); ctx.lineTo(cx + 5, cy);
    ctx.moveTo(cx, cy - 5); ctx.lineTo(cx, cy + 5);
    ctx.stroke();
    ctx.fillStyle = '#8e8e8e';
    ctx.font = '7px "Liberation Sans"';
    ctx.textAlign = 'center';
    ctx.textBaseline = 'middle';
    ctx.fillText('N', cx, cy - r - 10);
    ctx.fillText('S', cx, cy + r + 10);
    ctx.fillText('W', cx - r - 10, cy);
    ctx.fillText('E', cx + r + 10, cy);
    ctx.restore();
  }
};

function drawNet(id, poles, rings, fills) {
  const datasets = [{
    data: toPts(poles),
    pointRadius: 2.1,
    pointBackgroundColor: '#2e4a4c',
    pointBorderWidth: 0,
    showLine: false
  }];
  rings.forEach(r => datasets.push({
    data: toPts(r, true), showLine: true, pointRadius: 0,
    borderColor: '#9c9c9c', borderWidth: 1, tension: 0.3, fill: false
  }));
  fills.forEach(r => datasets.push({
    data: toPts(r, true), showLine: true, pointRadius: 0,
    borderColor: '#8a8a8a', borderWidth: 1, tension: 0.3,
    fill: 'shape', backgroundColor: 'rgba(150,150,150,0.42)'
  }));
  new Chart(document.getElementById(id), {
    type: 'scatter',
    data: {datasets: datasets},
    options: {
      responsive: false,
      animation: false,
      events: [],
      layout: {padding: 0},
      plugins: {
        legend: {display: false},
        tooltip: {enabled: false}
      },
      scales: {
        x: {type: 'linear', min: -RANGE, max: RANGE, display: false},
        y: {type: 'linear', min: -RANGE, max: RANGE, display: false}
      }
    },
    plugins: [netFrame]
  });
}

drawNet('n11', tlsMedW1Poles, tlsMedW1Rings, tlsMedW1Fills);
drawNet('n12', tlsMedW2Poles, tlsMedW2Rings, tlsMedW2Fills);
drawNet('n13', tlsMedW3Poles, tlsMedW3Rings, tlsMedW3Fills);
drawNet('n21', tlsHighW1Poles, tlsHighW1Rings, tlsHighW1Fills);
drawNet('n22', tlsHighW2Poles, tlsHighW2Rings, tlsHighW2Fills);
drawNet('n23', tlsHighW3Poles, tlsHighW3Rings, tlsHighW3Fills);
drawNet('n31', tdp50W1Poles, tdp50W1Rings, tdp50W1Fills);
drawNet('n32', tdp50W2Poles, tdp50W2Rings, tdp50W2Fills);
drawNet('n33', tdp50W3Poles, tdp50W3Rings, tdp50W3Fills);
drawNet('n41', tdp200W1Poles, tdp200W1Rings, tdp200W1Fills);
drawNet('n42', tdp200W2Poles, tdp200W2Rings, tdp200W2Fills);
drawNet('n43', tdp200W3Poles, tdp200W3Rings, tdp200W3Fills);
drawNet('n51', tdp400W1Poles, tdp400W1Rings, tdp400W1Fills);
</script>
</body>
</html>
